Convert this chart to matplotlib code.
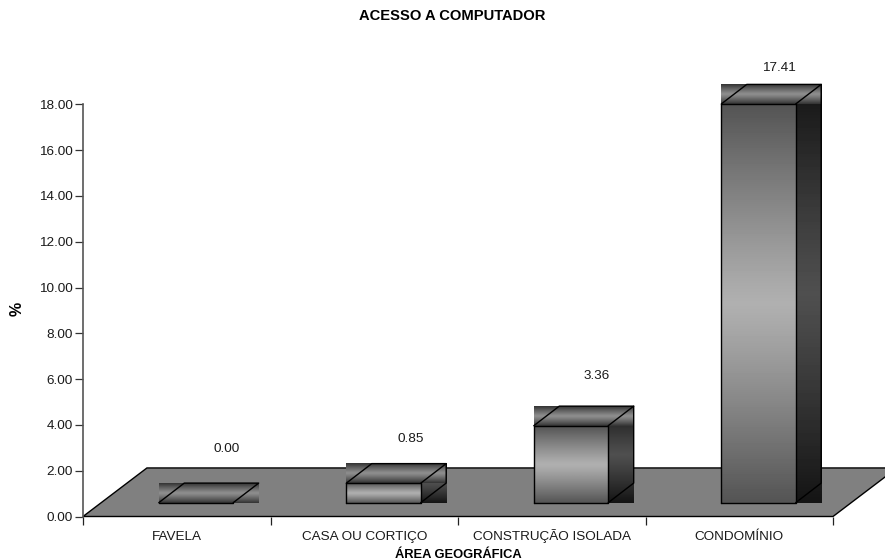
import numpy as np
import matplotlib
matplotlib.use("Agg")
import matplotlib.pyplot as plt
from matplotlib.patches import Polygon

plt.rcParams['font.family'] = ['Liberation Sans', 'DejaVu Sans']

categories = ["FAVELA", "CASA OU CORTIÇO", "CONSTRUÇÃO ISOLADA", "CONDOMÍNIO"]
values = [0.00, 0.85, 3.36, 17.41]
y_ticks = [0, 2, 4, 6, 8, 10, 12, 14, 16, 18]

# Pseudo-3D layout, in axis units
BAR_LEFT = 0.404
BAR_W = 0.397
BASE = 0.603
DX = 0.136
DY = 0.856
FLOOR_Y = 2.12
# Pixel nudges of each value label from the centre of the bar's back top edge
LABEL_DX = [17.5, 15, 12.5, 7.5]
LABEL_DY = [35, 25, 31, 17]

FS = 9.7
PX = 0.72  # points per pixel at 100 dpi

fig = plt.figure(figsize=(8.85, 5.6), dpi=100, facecolor="white")
ax = fig.add_axes([83/885, (560-516.5)/560, 750/885, 412.2/560])
ax.set_xlim(0, 4)
ax.set_ylim(0, 18)
ax.patch.set_visible(False)


def gradient(edge, mid, n=128):
    t = np.linspace(-1, 1, n)
    g = mid + (edge - mid) * np.abs(t) ** 1.15
    return g[:, None]


def paint(x0, x1, y0, y1, edge, mid, z):
    ax.imshow(gradient(edge, mid), extent=(x0, x1, y0, y1), cmap="gray", vmin=0, vmax=1,
              aspect="auto", origin="lower", interpolation="bilinear",
              clip_on=False, zorder=z)


# Floor
floor = Polygon([(0, 0), (4, 0), (4 + 0.341, FLOOR_Y), (0.341, FLOOR_Y)], closed=True,
                facecolor="#808080", edgecolor="black", linewidth=1.0,
                clip_on=False, zorder=1)
ax.add_patch(floor)

line_kw = dict(color="black", linewidth=1.0, solid_capstyle="round", zorder=6, clip_on=False)

for i, v in enumerate(values):
    x0 = i + BAR_LEFT
    x1 = x0 + BAR_W
    y0 = BASE
    y1 = BASE + v
    # side band, then top band, each filling its bounding rectangle
    if v > 0:
        paint(x1, x1 + DX, y0, y1 + DY, 0.08, 0.31, 3)
    paint(x0, x1 + DX, y1, y1 + DY, 0.20, 0.56, 4)
    if v > 0:
        paint(x0, x1, y0, y1, 0.33, 0.69, 5)
        ax.plot([x0, x1, x1, x0, x0], [y0, y0, y1, y1, y0], **line_kw)
        ax.plot([x1 + DX, x1 + DX, x1], [y1 + DY, y0 + DY, y0], **line_kw)
    else:
        ax.plot([x0, x1], [y0, y0], **line_kw)
    ax.plot([x0, x0 + DX, x1 + DX, x1], [y1, y1 + DY, y1 + DY, y1], **line_kw)

    ax.annotate(f"{v:.2f}", xy=(x0 + (BAR_W + DX) / 2, y1 + DY),
                xytext=(LABEL_DX[i] * PX, (LABEL_DY[i] - 0.7) * PX),
                textcoords="offset points", ha="center", va="center",
                fontsize=FS, color="#1a1a1a", annotation_clip=False, zorder=7)

ax.set_xlim(0, 4)
ax.set_ylim(0, 18)

# Axes furniture
for s in ("top", "right", "bottom"):
    ax.spines[s].set_visible(False)
ax.spines["left"].set_color("#555555")
ax.spines["left"].set_linewidth(1.2)
ax.spines["left"].set_zorder(2)

ax.set_yticks(y_ticks)
ax.set_yticklabels([f"{t:.2f}" for t in y_ticks], fontsize=FS, color="#1a1a1a")
ax.tick_params(axis="y", length=5.8, width=0.9, color="#333333", pad=1.6)

ax.set_xticks(range(5))
ax.set_xticklabels([])
ax.tick_params(axis="x", length=5.5, width=0.9, color="#222222")

# Category names share a baseline so the cedilla does not shift the row
for i, name in enumerate(categories):
    ax.text(i + 0.5, -23.5 / 412.2, name, transform=ax.get_xaxis_transform(),
            ha="center", va="baseline", fontsize=FS, color="#1a1a1a")

fig.text(458/885, 1 - 557.5/560, "ÁREA GEOGRÁFICA", ha="center", va="baseline",
         fontsize=9.3, fontweight="bold", color="black")
fig.text(17/885, 1 - 309/560, "%", rotation=90, ha="center", va="center",
         fontsize=11.5, fontweight="bold", color="black")
fig.text(452.5/885, 1 - 15.5/560, "ACESSO A COMPUTADOR", ha="center", va="center",
         fontsize=10.6, fontweight="bold", color="black")

fig.savefig("out.png", dpi=100, facecolor="white")
